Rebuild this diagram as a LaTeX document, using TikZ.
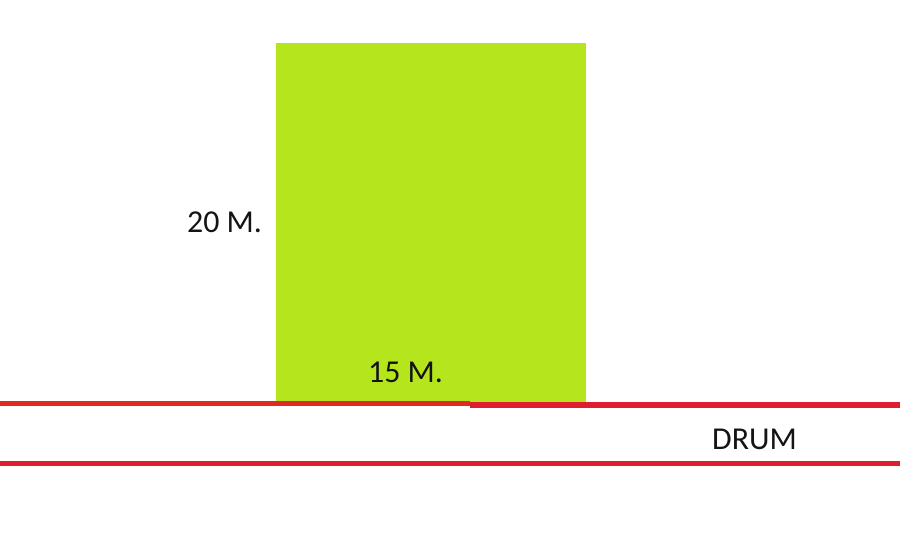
\documentclass[tikz,border=0pt]{standalone}
\usepackage{fontspec}
\setmainfont{Carlito}
\definecolor{lot}{HTML}{B5E61D}
\definecolor{roadA}{RGB}{222,42,32}
\definecolor{roadB}{RGB}{222,30,48}
\definecolor{ink}{HTML}{141414}
\begin{document}
\begin{tikzpicture}[x=1bp,y=-1bp,
  label/.style={inner sep=0pt,text=ink,font=\fontsize{32}{38}\selectfont},
  road/.style={line width=5.5bp}]
\useasboundingbox[fill=white] (0,0) rectangle (900,539);
\node[fill=lot,inner sep=0pt,minimum width=310bp,minimum height=359bp,anchor=north west] (lot) at (276,43) {};
\node[label,anchor=base west] (h) at (187,233) {20 M.};
\node[label,anchor=base west] (w) at (368,382) {15 M.};
\node[label,anchor=base west] (drum) at (712,449) {DRUM};
\draw[road,roadA] (0,403.5) -- (470,403.5);
\draw[road,roadB] (470,405) -- (900,405);
\draw[road,roadB] (0,463.5) -- (900,463.5);
\end{tikzpicture}
\end{document}
